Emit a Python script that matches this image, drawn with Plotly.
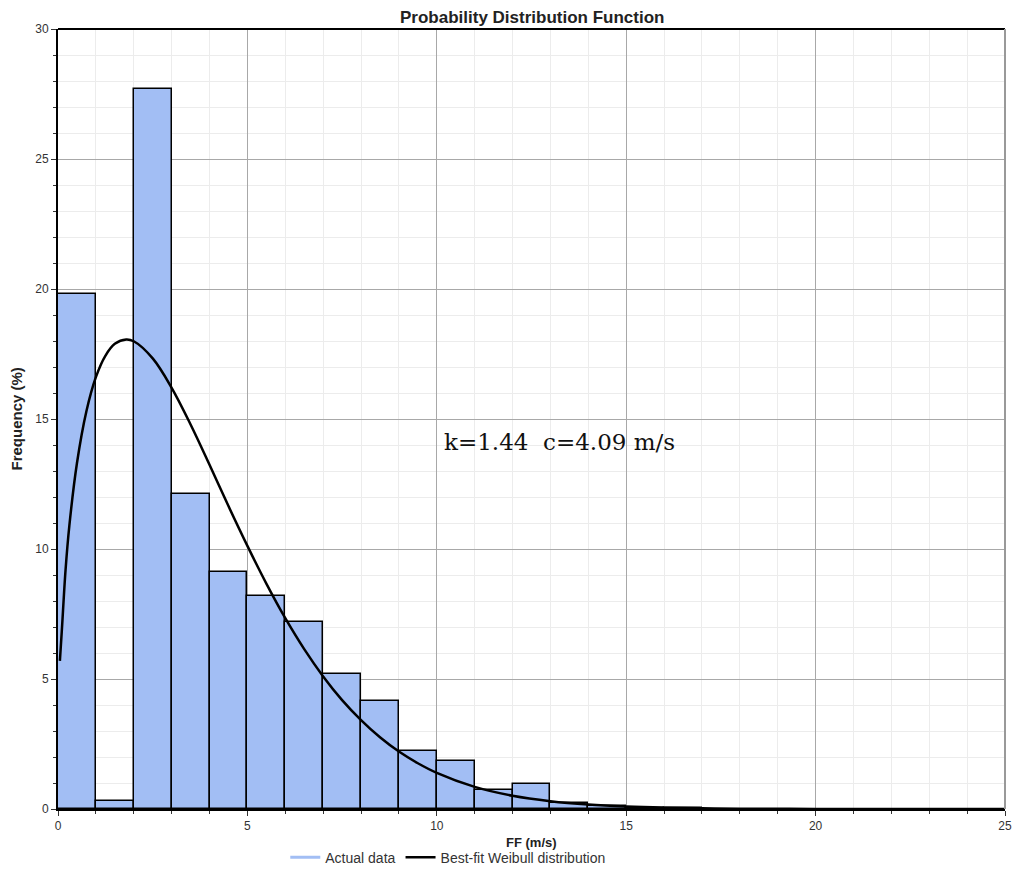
import plotly.graph_objects as go

# Histogram bins (m/s) and frequencies (%)
bin_left = [0, 1, 2, 3, 4, 5, 6, 7, 8, 9, 10, 11, 12, 13, 14, 15, 16]
freq = [19.8, 0.3, 27.7, 12.1, 9.1, 8.2, 7.2, 5.2, 4.15, 2.25, 1.85, 0.75, 0.95, 0.25, 0.12, 0.05, 0.03]

# Best-fit Weibull curve
wx = [0.05, 0.1, 0.2, 0.3, 0.5, 0.75, 1.0, 1.25, 1.5, 1.8, 2.0, 2.5, 3.0, 3.5, 4.0, 4.5,
      5.0, 5.5, 6.0, 6.5, 7.0, 7.5, 8.0, 8.5, 9.0, 9.5, 10, 11, 12, 13, 14, 15, 16, 17,
      18, 20, 22, 25]
wy = [5.7, 6.84, 9.21, 10.9, 13.3, 15.3, 16.61, 17.43, 17.89, 18.06, 17.99, 17.33, 16.2,
      14.79, 13.24, 11.65, 10.12, 8.67, 7.34, 6.15, 5.1, 4.19, 3.42, 2.76, 2.21, 1.76,
      1.39, 0.85, 0.51, 0.3, 0.17, 0.094, 0.05, 0.027, 0.014, 0.004, 0.001, 0.0]

x_ticks = [0, 5, 10, 15, 20, 25]
y_ticks = [0, 5, 10, 15, 20, 25, 30]

bar_color = "#a2bef4"

fig = go.Figure()
fig.add_trace(go.Bar(
    x=[b + 0.5 for b in bin_left], y=freq, width=1,
    marker=dict(color=bar_color, line=dict(color="black", width=1.5)),
    showlegend=False, name="Actual data",
))
fig.add_trace(go.Scatter(
    x=[None], y=[None], mode="lines", name="Actual data",
    line=dict(color=bar_color, width=3),
))
fig.add_trace(go.Scatter(
    x=wx, y=wy, mode="lines", name="Best-fit Weibull distribution",
    line=dict(color="black", width=2.5, shape="spline"),
))

# white box behind the parameters text
fig.add_shape(type="rect", xref="x", yref="y", x0=10.1, x1=17.0, y0=10.8, y1=15.06,
              fillcolor="white", line=dict(width=0), layer="below")

fig.add_annotation(x=10.15, y=14.1, xref="x", yref="y", xanchor="left", yanchor="middle",
                   text="k=1.44  c=4.09 m/s", showarrow=False,
                   font=dict(family="DejaVu Serif", size=23, color="#111"))

fig.add_annotation(x=0.5, y=1, xref="paper", yref="paper", yanchor="bottom", yshift=0,
                   text="<b>Probability Distribution Function</b>", showarrow=False,
                   font=dict(family="Arial, Liberation Sans", size=17, color="#222"))
fig.add_annotation(x=0.5, y=0, xref="paper", yref="paper", yanchor="top", yshift=-24,
                   text="<b>FF (m/s)</b>", showarrow=False,
                   font=dict(family="Arial, Liberation Sans", size=13, color="#222"))
fig.add_annotation(x=0, y=0.5, xref="paper", yref="paper", xanchor="right", xshift=-32,
                   text="<b>Frequency (%)</b>", textangle=-90, showarrow=False,
                   font=dict(family="Arial, Liberation Sans", size=15, color="#222"))

axis_common = dict(
    showgrid=True, gridcolor="#a8a8a8", gridwidth=1,
    zeroline=False, showline=True, linecolor="black", linewidth=2,
    ticks="outside", ticklen=5, tickcolor="#333", tickwidth=1,
    tickfont=dict(family="Arial, Liberation Sans", size=12, color="#333"),
    automargin=False,
    minor=dict(dtick=1, showgrid=True, gridcolor="#ececec", gridwidth=1,
               ticks="outside", ticklen=3, tickcolor="#333"),
)

fig.update_xaxes(range=[0, 25], tickvals=x_ticks, ticktext=[str(v) for v in x_ticks],
                 mirror=False, **axis_common)
fig.update_yaxes(range=[0, 30], tickvals=y_ticks, ticktext=[str(v) for v in y_ticks],
                 mirror=False, **axis_common)

# top border line
fig.add_shape(type="line", xref="paper", yref="paper", x0=0, x1=1, y0=1, y1=1,
              line=dict(color="black", width=2))
# right border line
fig.add_shape(type="line", xref="paper", yref="paper", x0=1, x1=1, y0=0, y1=1,
              line=dict(color="#999", width=2))

fig.update_layout(
    width=1016, height=871,
    margin=dict(l=58, r=11, t=29, b=62, autoexpand=False),
    plot_bgcolor="white", paper_bgcolor="white",
    bargap=0,
    showlegend=True,
    legend=dict(orientation="h", x=0.24, xanchor="left", y=-0.042, yanchor="top",
                font=dict(family="Arial, Liberation Sans", size=14, color="#333"),
                itemwidth=30, tracegroupgap=0, bgcolor="rgba(0,0,0,0)"),
)

fig.write_html("out.html")
